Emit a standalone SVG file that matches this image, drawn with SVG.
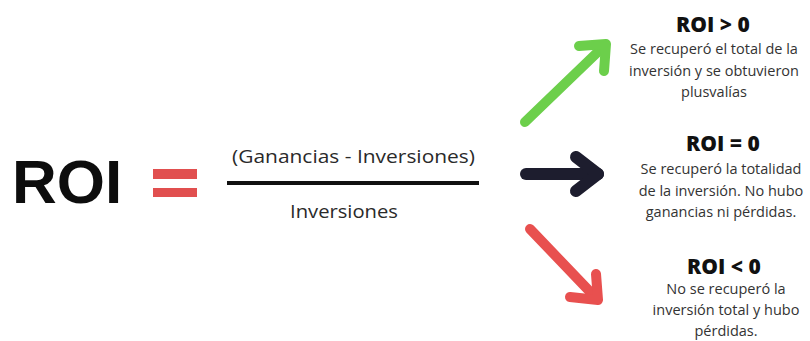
<svg xmlns="http://www.w3.org/2000/svg" width="810" height="341" viewBox="0 0 810 341">
  <style>
    .big { font-family: "Liberation Sans", Arial, sans-serif; font-weight: bold; font-size: 62px; fill: #0d0d0d; }
    .frac { font-family: "Open Sans", "Noto Sans", sans-serif; font-size: 18px; fill: #2a2a2a; }
    .title { font-family: "Open Sans", "Noto Sans", sans-serif; font-weight: 800; font-size: 21px; fill: #111; text-anchor: middle; }
    .desc { font-family: "Open Sans", "Noto Sans", sans-serif; font-size: 14.5px; fill: #333; text-anchor: middle; }
    .arrow { fill: none; stroke-linecap: round; stroke-linejoin: round; }
  </style>

  <rect width="810" height="341" fill="#ffffff"/>

  <!-- formula: ROI = (Ganancias - Inversiones) / Inversiones -->
  <g id="formula">
    <text class="big" x="12" y="203">ROI</text>
    <rect x="153" y="169" width="44" height="10" fill="#e14f4f"/>
    <rect x="153" y="188" width="44" height="9" fill="#e14f4f"/>
    <text class="frac" x="232" y="163" textLength="243" lengthAdjust="spacingAndGlyphs">(Ganancias - Inversiones)</text>
    <line x1="227" y1="183" x2="479" y2="183" stroke="#111" stroke-width="4"/>
    <text class="frac" x="290" y="218" textLength="108" lengthAdjust="spacingAndGlyphs">Inversiones</text>
  </g>

  <!-- outcome arrows -->
  <g id="connectors">
    <g class="arrow" stroke="#6ccf4b" stroke-width="10">
      <line x1="525" y1="122" x2="604" y2="46"/>
      <polyline points="579,46 606,44 604,71"/>
    </g>
    <g class="arrow" stroke="#1d1d2e" stroke-width="12">
      <line x1="526" y1="174" x2="598" y2="174"/>
      <polyline points="576,157 598,174 576,191"/>
    </g>
    <g class="arrow" stroke="#e8504f" stroke-width="10">
      <line x1="530" y1="229" x2="596" y2="298"/>
      <polyline points="570,297 598,300 596,274"/>
    </g>
  </g>

  <!-- outcomes -->
  <g id="roi-positive">
    <text class="title" x="713" y="32">ROI &gt; 0</text>
    <text class="desc" x="714" y="54">Se recuperó el total de la</text>
    <text class="desc" x="714" y="76">inversión y se obtuvieron</text>
    <text class="desc" x="714" y="97">plusvalías</text>
  </g>
  <g id="roi-zero">
    <text class="title" x="723" y="151">ROI = 0</text>
    <text class="desc" x="721" y="174">Se recuperó la totalidad</text>
    <text class="desc" x="721" y="196">de la inversión. No hubo</text>
    <text class="desc" x="721" y="217">ganancias ni pérdidas.</text>
  </g>
  <g id="roi-negative">
    <text class="title" x="724" y="274">ROI &lt; 0</text>
    <text class="desc" x="726" y="294">No se recuperó la</text>
    <text class="desc" x="726" y="315">inversión total y hubo</text>
    <text class="desc" x="726" y="336">pérdidas.</text>
  </g>
</svg>
